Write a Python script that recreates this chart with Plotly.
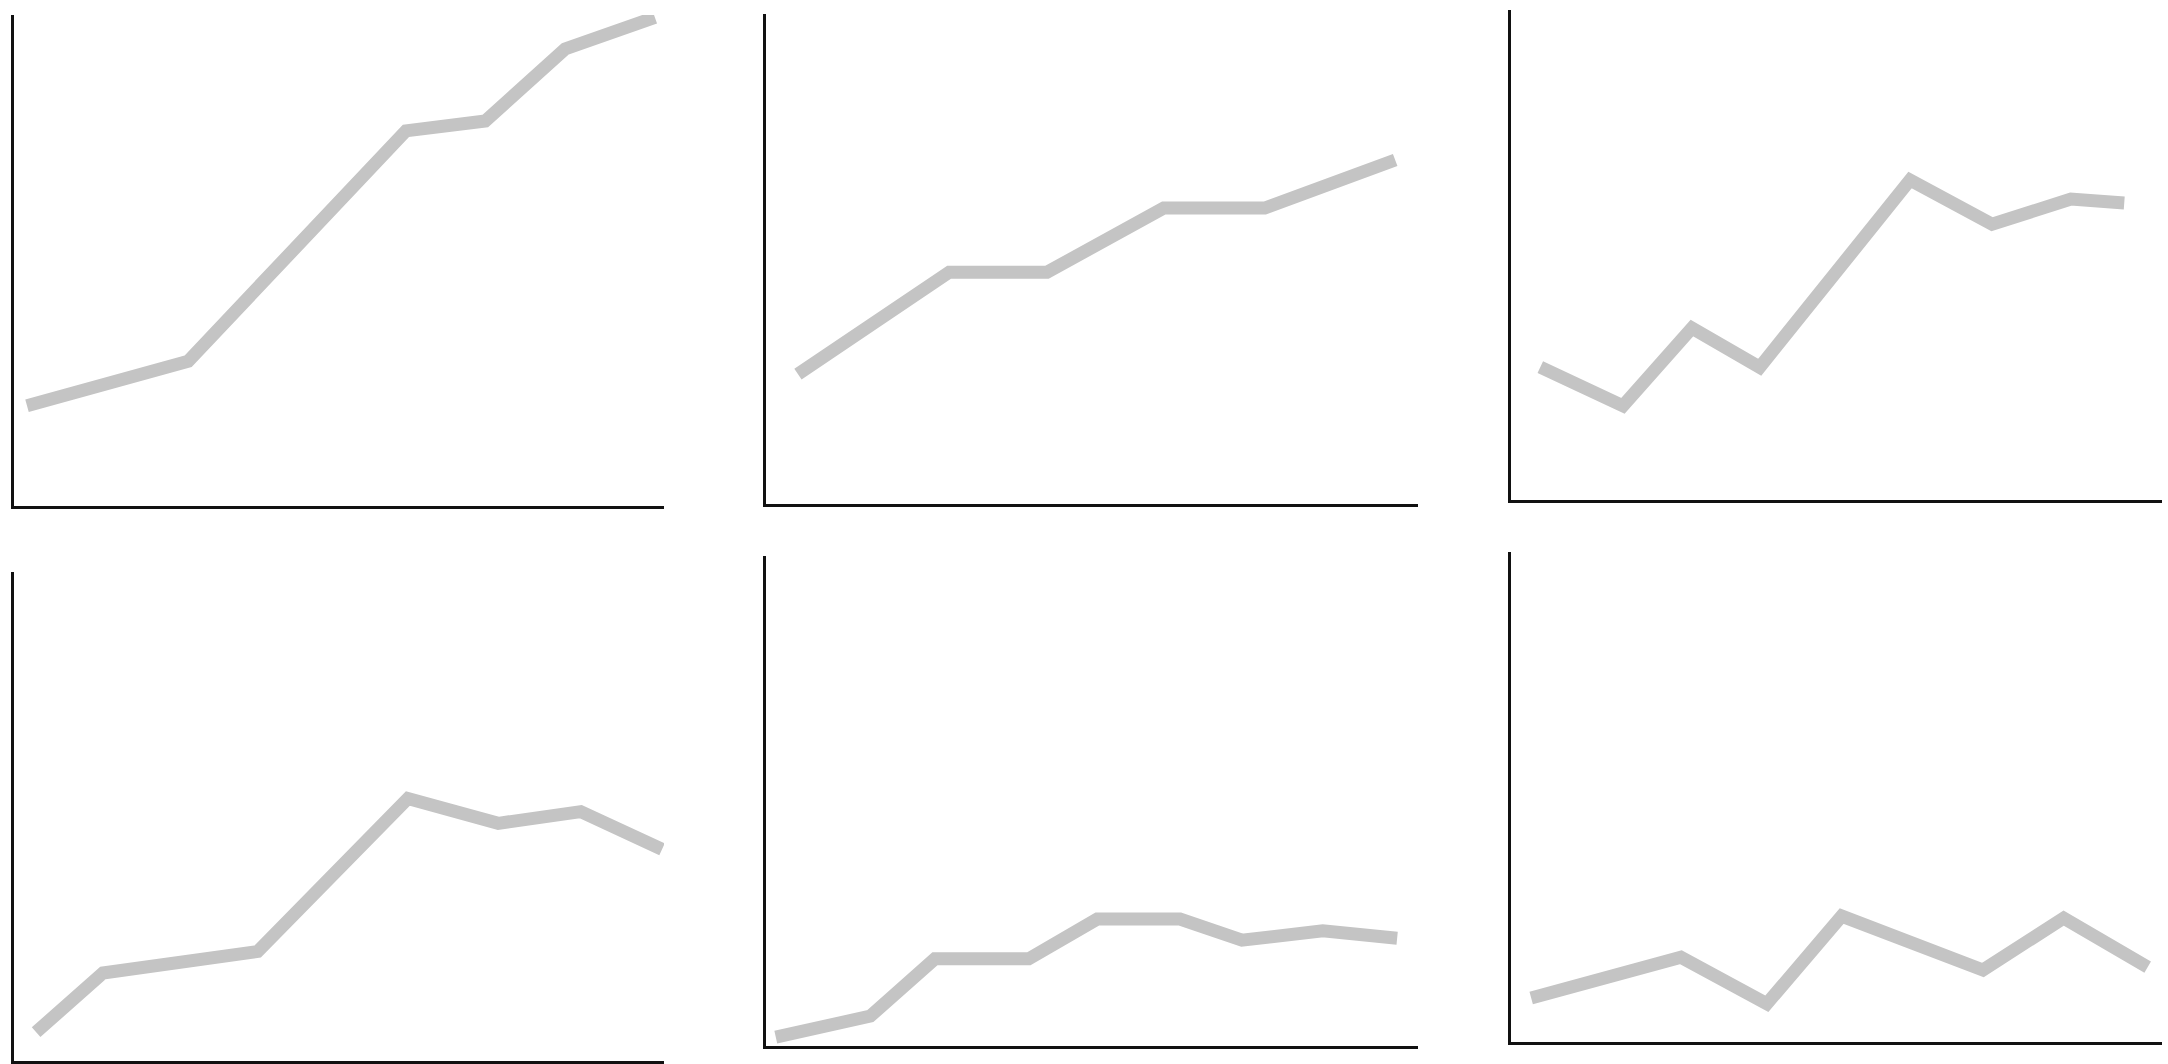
import plotly.graph_objects as go

# Six small line sketches (x on a 0-10 scale, y on a 0-100 scale)
x1 = [0.2, 2.68, 6.03, 7.25, 8.48, 9.86]
y1 = [20.4, 29.5, 76.4, 78.4, 93.1, 99.5]

x2 = [0.49, 2.81, 4.31, 6.10, 7.65, 9.65]
y2 = [26.5, 47.3, 47.3, 60.4, 60.4, 70.2]

x3 = [0.45, 1.72, 2.78, 3.82, 6.13, 7.39, 8.60, 9.42]
y3 = [27.1, 19.2, 35.1, 27.1, 65.3, 56.3, 61.4, 60.6]

x4 = [0.34, 1.37, 3.75, 6.06, 7.45, 8.72, 9.97]
y4 = [5.9, 18.0, 22.4, 53.7, 48.6, 51.0, 43.3]

x5 = [0.15, 1.60, 2.59, 4.03, 5.08, 6.35, 7.30, 8.54, 9.68]
y5 = [1.8, 6.1, 17.8, 17.8, 25.9, 25.9, 21.6, 23.5, 22.0]

x6 = [0.31, 2.61, 3.93, 5.08, 7.25, 8.49, 9.78]
y6 = [9.0, 17.3, 7.8, 25.7, 14.7, 25.3, 15.3]

series = [(x1, y1), (x2, y2), (x3, y3), (x4, y4), (x5, y5), (x6, y6)]

W, H = 2168, 1064
# panel boxes in pixels: left, right, top, bottom
boxes = [
    (14, 664, 15, 506),
    (766, 1418, 14, 504),
    (1511, 2162, 10, 500),
    (14, 664, 572, 1061),
    (766, 1418, 556, 1046),
    (1511, 2162, 552, 1042),
]

LINE_COLOR = "#c4c4c4"
AXIS_COLOR = "#111111"

fig = go.Figure()
layout = dict(
    width=W, height=H,
    margin=dict(l=0, r=0, t=0, b=0),
    paper_bgcolor="white", plot_bgcolor="white",
    showlegend=False,
)

for i, ((xs, ys), (L, R, T, B)) in enumerate(zip(series, boxes), start=1):
    sfx = "" if i == 1 else str(i)
    fig.add_trace(go.Scatter(
        x=xs, y=ys, mode="lines",
        line=dict(color=LINE_COLOR, width=13),
        xaxis="x" + sfx, yaxis="y" + sfx,
        hoverinfo="skip",
    ))
    common = dict(showgrid=False, zeroline=False, showticklabels=False,
                  ticks="", showline=True, linecolor=AXIS_COLOR,
                  linewidth=3, mirror=False, fixedrange=True)
    layout["xaxis" + sfx] = dict(domain=[L / W, R / W], range=[0, 10],
                                 anchor="y" + sfx, **common)
    layout["yaxis" + sfx] = dict(domain=[1 - B / H, 1 - T / H], range=[0, 100],
                                 anchor="x" + sfx, **common)

fig.update_layout(**layout)
fig.write_html(
    "out.html",
    config={"displayModeBar": False},
    post_script="document.body.style.margin='0';document.body.style.overflow='hidden';",
)
